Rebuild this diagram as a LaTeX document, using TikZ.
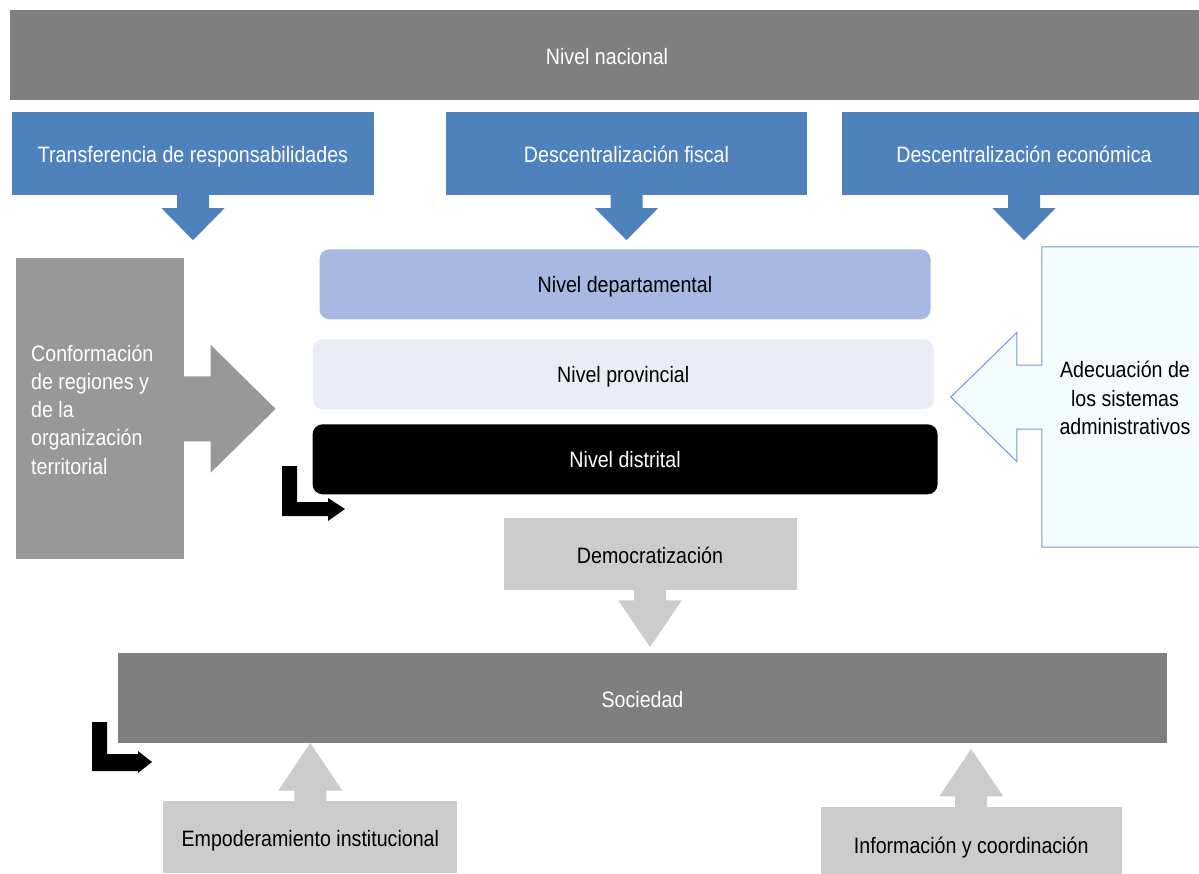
\documentclass[tikz,border=0pt]{standalone}
\usepackage{fontspec}
\setmainfont{Liberation Sans}[FakeStretch=0.88]
\usetikzlibrary{calc}

\definecolor{nacgray}{HTML}{7F7F7F}
\definecolor{confgray}{HTML}{989898}
\definecolor{blueacc}{HTML}{4F81BD}
\definecolor{deptblue}{HTML}{A7B8E3}
\definecolor{provblue}{HTML}{EAEDF7}
\definecolor{adecfill}{HTML}{F3FDFF}
\definecolor{adecline}{HTML}{7399D2}
\definecolor{palegray}{HTML}{CCCCCC}

% block arrow: fill, base point, stem half-width, stem length, head half-width, head length, rotation
\newcommand{\blkarrow}[7]{%
  \begin{scope}[shift={(#2)}, rotate=#7]
    \fill[#1] (-#3,-1) -- (-#3,#4) -- (-#5,#4) -- (0,#4+#6) -- (#5,#4) -- (#3,#4) -- (#3,-1) -- cycle;
  \end{scope}}

\begin{document}
\begin{tikzpicture}[x=1pt, y=-1pt,
  every node/.style={font=\fontsize{22.3}{28.3}\selectfont},
  box/.style={rectangle, inner sep=0pt, align=center},
  oneline/.style={text height=22pt, text depth=4pt},
  bluebox/.style={box, oneline, fill=blueacc, text=white, minimum width=#1, minimum height=83pt},
  lvl/.style={box, rounded corners=10pt, minimum height=70pt, text height=20pt, text depth=4pt},
  graybox/.style={box, oneline, fill=palegray, text=black}]

\clip (0,0) rectangle (1199,873);

% national level
\node[box, oneline, fill=nacgray, text=white, minimum width=1194pt, minimum height=90pt] (nac) at (607,55) {Nivel nacional};

% the three reform lines
\node[bluebox=362pt] (t1) at (193,153.5) {Transferencia de responsabilidades};
\node[bluebox=361pt] (t2) at (626.5,153.5) {Descentralización fiscal};
\node[bluebox=364pt] (t3) at (1024,153.5) {Descentralización económica};

\blkarrow{blueacc}{t1.south}{16}{13}{31.5}{32}{0}
\blkarrow{blueacc}{t2.south}{16}{13}{31.5}{32}{0}
\blkarrow{blueacc}{t3.south}{16}{13}{31.5}{32}{0}

% government levels
\node[lvl, fill=deptblue, minimum width=611pt] (dep) at (625,284.3) {Nivel departamental};
\node[lvl, fill=provblue, minimum width=621pt] (prov) at (623.2,374.3) {Nivel provincial};
\node[lvl, fill=black, text=white, minimum width=625pt] (dist) at (625.1,459.3) {Nivel distrital};

% left callout
\node[box, fill=confgray, minimum width=168pt, minimum height=301pt] (conf) at (100.4,408.8) {};
\blkarrow{confgray}{conf.east}{32.5}{26}{64}{65}{90}
\node[box, anchor=west, align=left, text=white] (conftxt) at (31,409.5)
  {Conformación\\de regiones y\\de la\\organización\\territorial};

% right callout (outlined, arrow pointing left)
\node[box, minimum width=170pt, minimum height=300pt] (adec) at (1127,397) {};
\filldraw[fill=adecfill, draw=adecline, line width=1pt]
  (adec.north west) -- ($(adec.west)+(0,-32)$) -- ++(-25,0) -- ++(0,-32.5)
  -- ($(adec.west)+(-91,0)$) -- ($(adec.west)+(-25,64.5)$) -- ++(0,-32.5) -- ++(25,0)
  -- (adec.south west) -- (adec.south east) -- (adec.north east) -- cycle;
\node[box, align=center] (adectxt) at (1125,398) {Adecuación de\\los sistemas\\administrativos};

% bent arrows
\fill[black] (282,466) -- (297,466) -- (297,502) -- (328,502) -- (328,498) -- (345,509)
  -- (328,521) -- (328,516) -- (282,516) -- cycle;
\fill[black] (92,722) -- (107,722) -- (107,754) -- (138,754) -- (138,751) -- (152,762)
  -- (138,773) -- (138,771) -- (92,771) -- cycle;

% democratisation towards society
\node[graybox, minimum width=293pt, minimum height=72pt] (dem) at (650,554.2) {Democratización};
\blkarrow{palegray}{dem.south}{16}{10}{31.7}{46.7}{0}

\node[box, oneline, fill=nacgray, text=white, minimum width=1049pt, minimum height=90pt] (soc) at (642.5,698) {Sociedad};

% supporting inputs from below
\node[graybox, minimum width=294pt, minimum height=72pt] (emp) at (310.3,837) {Empoderamiento institucional};
\blkarrow{palegray}{emp.north}{16}{10.3}{32}{47.4}{180}

\node[graybox, minimum width=301pt, minimum height=74pt] (inf) at (971.2,844) {Información y coordinación};
\blkarrow{palegray}{inf.north}{16}{10.5}{32}{47.3}{180}

\end{tikzpicture}
\end{document}
